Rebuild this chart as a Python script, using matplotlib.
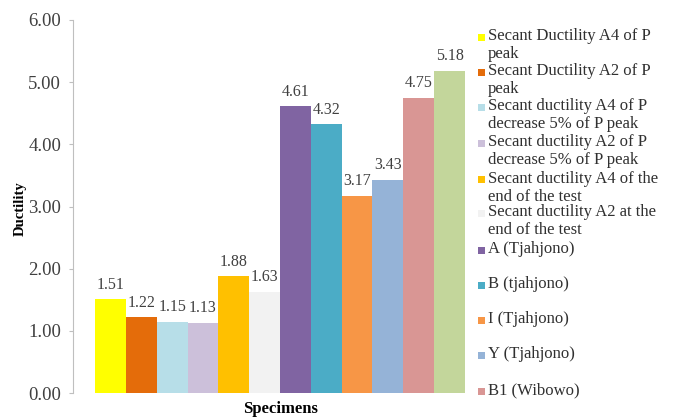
import numpy as np
import matplotlib
matplotlib.use('Agg')
from matplotlib import pyplot as plt
from matplotlib.patches import Rectangle

# Данные
labels = [
    'Secant Ductility A4 of P\npeak',
    'Secant Ductility A2 of P\npeak',
    'Secant ductility A4 of P\ndecrease 5% of P peak',
    'Secant ductility A2 of P\ndecrease 5% of P peak',
    'Secant ductility A4 of the\nend of the test',
    'Secant ductility A2 at the\nend of the test',
    'A (Tjahjono)',
    'B (tjahjono)',
    'I (Tjahjono)',
    'Y (Tjahjono)',
    'B1 (Wibowo)',
    'B2 (Wibowo)',
]
values = [1.51, 1.22, 1.15, 1.13, 1.88, 1.63, 4.61, 4.32, 3.17, 3.43, 4.75, 5.18]
bar_colors = ['#FFFF00', '#E46C0A', '#B7DEE8', '#CCC0DA', '#FFC000', '#F2F2F2',
              '#8064A2', '#4BACC6', '#F79646', '#95B3D7', '#D99694', '#C3D69B']
y_ticks = [0, 1, 2, 3, 4, 5, 6]

plt.rcParams['font.family'] = ['Liberation Serif', 'DejaVu Serif']

W, H = 673, 417
fig = plt.figure(figsize=(W / 100, H / 100), dpi=100)

# Оси в пикселях: слева 73, справа 480, сверху 20, снизу 393
L, R, T, B = 73, 480, 20, 393
ax = fig.add_axes([L / W, 1 - B / H, (R - L) / W, (B - T) / H])

n = len(values)
x = np.arange(n)
ax.bar(x, values, width=1.0, color=bar_colors, align='edge')

# Подписи значений
for xi, v in zip(x, values):
    ax.annotate(f'{v:.2f}', (xi + 0.5, v), xytext=(0, 10.5), textcoords='offset points',
                ha='center', va='center', fontsize=11.5, color='#404040')

px_per_bar = (465 - 95) / n
ax.set_xlim(-(95 - L) / px_per_bar, n + (R - 465) / px_per_bar)
ax.set_ylim(0, 6)
ax.set_yticks(y_ticks)
ax.set_yticklabels([f'{t:.2f}' for t in y_ticks], fontsize=13.5, color='#404040')
ax.set_xticks([])

for s in ['top', 'right', 'bottom']:
    ax.spines[s].set_visible(False)
ax.spines['left'].set_color('#BFBFBF')
ax.tick_params(axis='y', length=3, color='#BFBFBF', pad=5.5)

ax.set_ylabel('Ductility', fontsize=10.5, fontweight='bold', va='center')
ax.yaxis.set_label_coords((20 - L) / (R - L), (B - 209) / (B - T))
ax.set_xlabel('Specimens', fontsize=12, fontweight='bold', va='center')
ax.xaxis.set_label_coords((280 - L) / (R - L), (B - 409) / (B - T))

# Легенда вручную (как в Excel, последний элемент обрезан)
leg_y = [37, 72, 107, 143, 180, 213, 250, 285, 320, 355, 391]
for lab, col, yy in zip(labels, bar_colors, leg_y):
    fig.patches.append(Rectangle((478 / W, 1 - (yy + 3.5) / H), 7 / W, 7 / H,
                                 facecolor=col, edgecolor='none',
                                 transform=fig.transFigure, figure=fig))
    fig.text(488 / W, 1 - (yy - 9) / H, lab, fontsize=12, va='top', ha='left',
             linespacing=1.2, color='#303030')

fig.savefig('out.png', dpi=100)
